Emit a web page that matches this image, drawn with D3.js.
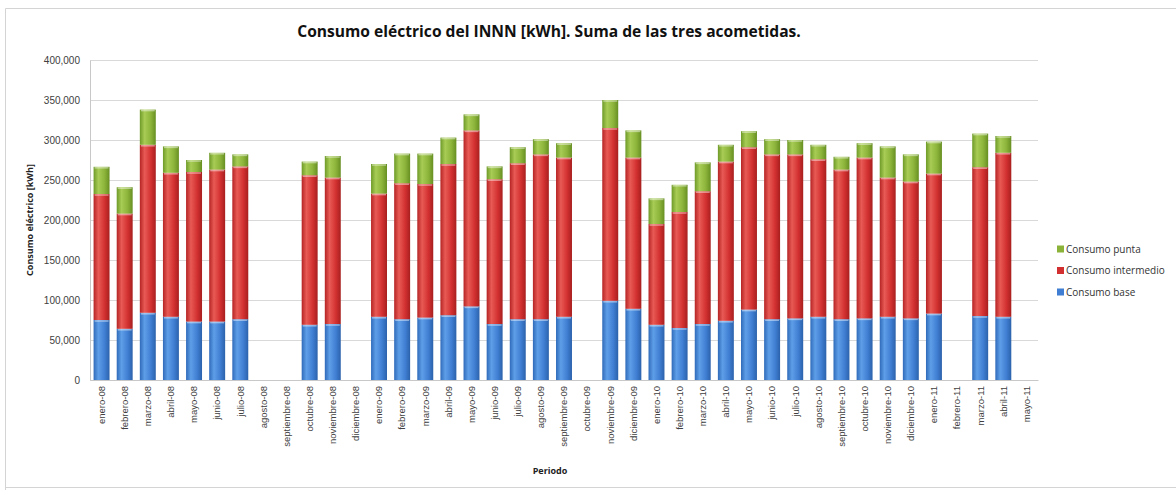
<!DOCTYPE html>
<html><head><meta charset="utf-8">
<script src="https://cdn.jsdelivr.net/npm/d3@7"></script>
<style>body{margin:0;background:#fff;}svg{display:block;font-family:"Open Sans","Noto Sans",sans-serif;}</style>
</head><body><svg id="c" width="1176" height="490"></svg>
<script>
const categories = ["enero-08","febrero-08","marzo-08","abril-08","mayo-08","junio-08","julio-08","agosto-08","septiembre-08","octubre-08","noviembre-08","diciembre-08",
"enero-09","febrero-09","marzo-09","abril-09","mayo-09","junio-09","julio-09","agosto-09","septiembre-09","octubre-09","noviembre-09","diciembre-09",
"enero-10","febrero-10","marzo-10","abril-10","mayo-10","junio-10","julio-10","agosto-10","septiembre-10","octubre-10","noviembre-10","diciembre-10",
"enero-11","febrero-11","marzo-11","abril-11","mayo-11"];
const consumoBase = [75000,64000,84000,79000,73000,73000,76000,null,null,69000,70000,null,
79000,76000,78000,81000,92000,70000,76000,76000,79000,null,99000,89000,
69000,65000,70000,74000,88000,76000,77000,79000,76000,77000,79000,77000,
83000,null,80000,79000,null];
const consumoIntermedio = [157500,144000,210000,180000,187000,190000,191000,null,null,187000,183000,null,
154000,170000,167000,189000,220000,181000,195000,206000,199000,null,216000,189000,
126000,145000,166000,199000,203000,206000,205000,197000,187000,201000,174000,171000,
175000,null,186000,205000,null];
const consumoPunta = [34000,33000,44000,33000,15000,21000,15000,null,null,17000,27000,null,
37000,37000,38000,33000,20000,16000,20000,19000,18000,null,35000,34000,
32000,34000,36000,21000,20000,19000,18000,18000,16000,18000,39000,34000,
40000,null,42000,21000,null];
const seriesNames = ["Consumo base","Consumo intermedio","Consumo punta"];
const yTicks = [0,50000,100000,150000,200000,250000,300000,350000,400000];

const svg = d3.select("#c");
const m={left:90,right:1038,top:60,bottom:380};

// outer border
svg.append("path").attr("d",`M5.5,490 V8.5 H1176 M5.5,487.5 H1176`).attr("fill","none").attr("stroke","#d4d4d4").attr("stroke-width",1);

const x = d3.scaleBand().domain(categories).range([m.left,m.right]).paddingInner(0.31).paddingOuter(0.155);
const y = d3.scaleLinear().domain([0,400000]).range([m.bottom,m.top]);

const defs = svg.append("defs");
const cols = {
 "Consumo base":["#2f6ab9","#5e9ee8","#3f7ed2","#2c62ab"],
 "Consumo intermedio":["#b52424","#e85a55","#d23030","#a81f1f"],
 "Consumo punta":["#6e9a28","#a8cc55","#8bb33a","#668f22"]
};
const gid = {};
seriesNames.forEach((s,i)=>{
  const id="g"+i; gid[s]=id;
  const g=defs.append("linearGradient").attr("id",id).attr("x1","0").attr("x2","1").attr("y1","0").attr("y2","0");
  const c=cols[s];
  g.append("stop").attr("offset","0%").attr("stop-color",c[0]);
  g.append("stop").attr("offset","30%").attr("stop-color",c[1]);
  g.append("stop").attr("offset","70%").attr("stop-color",c[2]);
  g.append("stop").attr("offset","100%").attr("stop-color",c[3]);
});

// gridlines
svg.append("g").selectAll("line").data(yTicks).join("line")
 .attr("x1",m.left).attr("x2",m.right).attr("y1",d=>Math.round(y(d))+0.5).attr("y2",d=>Math.round(y(d))+0.5)
 .attr("stroke","#d9d9d9").attr("stroke-width",1.2);

// y axis
const ya = svg.append("g").attr("transform",`translate(${m.left},0)`)
 .call(d3.axisLeft(y).tickValues(yTicks).tickFormat(d3.format(",")).tickSize(0).tickPadding(10));
ya.select(".domain").attr("stroke","#c8c8c8");
ya.selectAll("text").attr("font-size","10px").attr("fill","#404040");

// x axis
const xa = svg.append("g").attr("transform",`translate(0,${m.bottom})`)
 .call(d3.axisBottom(x).tickSize(0).tickPadding(6));
xa.select(".domain").attr("stroke","#c8c8c8");
xa.selectAll("text").attr("font-size","9.5px").attr("fill","#404040")
 .attr("transform","rotate(-90)").attr("text-anchor","end").attr("dx","-6").attr("dy","0.35em").attr("y",0).attr("x",0);

// stacked bars
const rows = categories.map((c,i)=>({cat:c,"Consumo base":consumoBase[i],"Consumo intermedio":consumoIntermedio[i],"Consumo punta":consumoPunta[i]}));
const stack = d3.stack().keys(seriesNames).value((d,k)=>d[k]||0)(rows);
const bars = svg.append("g");
stack.forEach(layer=>{
  const s = layer.key;
  const g = bars.append("g");
  const valid = layer.filter(d=>d.data[s]!=null);
  g.selectAll("rect").data(valid).join("rect")
   .attr("x",d=>x(d.data.cat)).attr("width",x.bandwidth())
   .attr("y",d=>y(d[1])).attr("height",d=>y(d[0])-y(d[1]))
   .attr("fill",`url(#${gid[s]})`);
  g.selectAll("line").data(valid).join("line")
   .attr("x1",d=>x(d.data.cat)+1).attr("x2",d=>x(d.data.cat)+x.bandwidth()-1)
   .attr("y1",d=>y(d[1])+1).attr("y2",d=>y(d[1])+1)
   .attr("stroke","#ffffff").attr("stroke-opacity",0.45).attr("stroke-width",1.5);
});

// title
svg.append("text").attr("x",549).attr("y",37).attr("text-anchor","middle")
 .attr("font-size","15.6px").attr("font-weight","bold").attr("fill","#111")
 .text("Consumo eléctrico del INNN [kWh]. Suma de las tres acometidas.");

svg.append("text").attr("transform","translate(33,220) rotate(-90)").attr("text-anchor","middle")
 .attr("font-size","9px").attr("font-weight","bold").attr("fill","#222").text("Consumo eléctrico [kWh]");
svg.append("text").attr("x",550).attr("y",474).attr("text-anchor","middle")
 .attr("font-size","9px").attr("font-weight","bold").attr("fill","#222").text("Periodo");

// legend
const legendOrder = ["Consumo punta","Consumo intermedio","Consumo base"];
const lg = svg.append("g").attr("transform","translate(1057,249)");
legendOrder.forEach((s,i)=>{
  const gi = lg.append("g").attr("transform",`translate(0,${i*21.5})`);
  gi.append("rect").attr("x",0).attr("y",-3.5).attr("width",7).attr("height",7).attr("fill",cols[s][2]);
  gi.append("text").attr("x",9).attr("y",0).attr("dy","0.35em").attr("font-size","10px").attr("fill","#333").text(s);
});
</script></body></html>
